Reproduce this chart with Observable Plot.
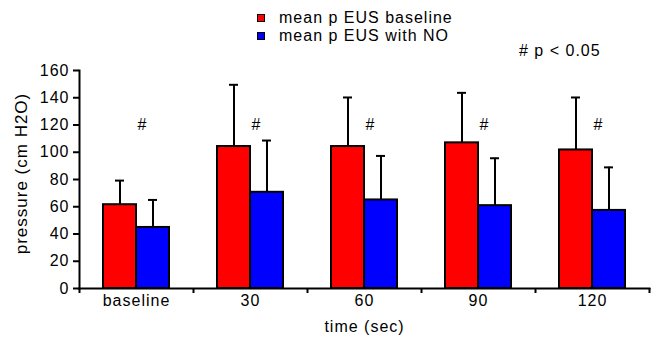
<!DOCTYPE html>
<html><head><meta charset="utf-8">
<script src="https://cdn.jsdelivr.net/npm/d3@7"></script>
<script src="https://cdn.jsdelivr.net/npm/@observablehq/plot@0.6"></script>
<style>
body{margin:0;background:#fff;font-family:"Liberation Sans",Arial,sans-serif;color:#000;}
#wrap{position:relative;width:661px;height:339px;overflow:hidden;}
#head{position:relative;width:661px;height:60px;font-size:16px;letter-spacing:1px;}
.item{position:absolute;left:257px;height:18px;line-height:18px;white-space:nowrap;}
.sw{position:absolute;left:0;top:5px;width:6px;height:6px;border:1px solid #000;}
.lab{position:absolute;left:22px;top:0;}
#note{position:absolute;left:519px;top:42px;line-height:18px;white-space:nowrap;}
</style></head>
<body>
<div id="wrap"><div id="head"></div><div id="chart"></div></div>
<script>
const categories = ["baseline", "30", "60", "90", "120"];
const seriesNames = ["mean p EUS baseline", "mean p EUS with NO"];
const seriesColors = ["#ff0000", "#0000ff"];
const baselineMean = [61.5, 104.2, 104.2, 106.9, 101.7];
const baselineSD = [17.7, 45.3, 36.0, 36.7, 38.5];
const noMean = [44.8, 70.6, 65.0, 60.8, 57.3];
const noSD = [20.2, 38.0, 32.3, 34.8, 31.6];
const sigMarks = ["#", "#", "#", "#", "#"];
const sigLevel = [120, 120, 120, 120, 120];
const yTicks = [0, 20, 40, 60, 80, 100, 120, 140, 160];
const noteText = "# p < 0.05";
const xLabel = "time (sec)";
const yLabel = "pressure (cm H2O)";

// legend (HTML above the SVG)
const head = document.getElementById("head");
seriesNames.forEach((name, i) => {
  const item = document.createElement("div");
  item.className = "item";
  item.style.top = (9 + i * 18) + "px";
  const sw = document.createElement("div");
  sw.className = "sw";
  sw.style.background = seriesColors[i];
  const lab = document.createElement("div");
  lab.className = "lab";
  lab.textContent = name;
  item.appendChild(sw); item.appendChild(lab);
  head.appendChild(item);
});
const note = document.createElement("div");
note.id = "note";
note.textContent = noteText;
head.appendChild(note);

const rowsB = categories.map((c, i) => ({category: c, mean: baselineMean[i], top: baselineMean[i] + baselineSD[i]}));
const rowsN = categories.map((c, i) => ({category: c, mean: noMean[i], top: noMean[i] + noSD[i]}));
const sigRows = categories.map((c, i) => ({category: c, text: sigMarks[i], y: sigLevel[i]}));

const chart = Plot.plot({
  width: 661,
  height: 279,
  marginLeft: 79,
  marginRight: 12,
  marginTop: 10,
  marginBottom: 51,
  style: {fontFamily: "'Liberation Sans', Arial, sans-serif", fontSize: "16px", letterSpacing: "1px", color: "#000", background: "#fff", overflow: "visible"},
  x: {domain: categories, padding: 0, label: null},
  y: {domain: [0, 160], label: null},
  marks: [
    Plot.ruleX(rowsB, {x: "category", y1: "mean", y2: "top", dx: -16.5, strokeWidth: 2}),
    Plot.tickY(rowsB, {x: "category", y: "top", insetLeft: 36, insetRight: 69, strokeWidth: 2}),
    Plot.ruleX(rowsN, {x: "category", y1: "mean", y2: "top", dx: 16.5, strokeWidth: 2}),
    Plot.tickY(rowsN, {x: "category", y: "top", insetLeft: 69, insetRight: 36, strokeWidth: 2}),
    Plot.barY(rowsB, {x: "category", y: "mean", fill: seriesColors[0], stroke: "#000", strokeWidth: 2, insetLeft: 24, insetRight: 57}),
    Plot.barY(rowsN, {x: "category", y: "mean", fill: seriesColors[1], stroke: "#000", strokeWidth: 2, insetLeft: 57, insetRight: 24}),
    Plot.frame({anchor: "left", strokeWidth: 2}),
    Plot.frame({anchor: "bottom", strokeWidth: 2}),
    Plot.ruleX(categories, {x: d => d, y1: 0, y2: 0, insetBottom: -5, dx: 57, strokeWidth: 2}),
    Plot.ruleX(categories.slice(0, 1), {x: d => d, y1: 0, y2: 0, insetBottom: -5, dx: -57, strokeWidth: 2}),
    Plot.axisY({ticks: yTicks, tickSize: 6, tickPadding: 4, strokeWidth: 2, fontSize: 16, label: null}),
    Plot.axisX({tickSize: 0, tickPadding: 6, fontSize: 16, label: null}),
    Plot.text(sigRows, {x: "category", y: "y", text: "text", dx: 6, fontSize: 16}),
    Plot.text([yLabel], {text: d => d, frameAnchor: "left", textAnchor: "middle", rotate: -90, dx: -58, dy: -6, fontSize: 17}),
    Plot.text([xLabel], {text: d => d, frameAnchor: "bottom", textAnchor: "middle", dy: 43, fontSize: 16})
  ]
});
document.getElementById("chart").appendChild(chart);
</script>
</body></html>
